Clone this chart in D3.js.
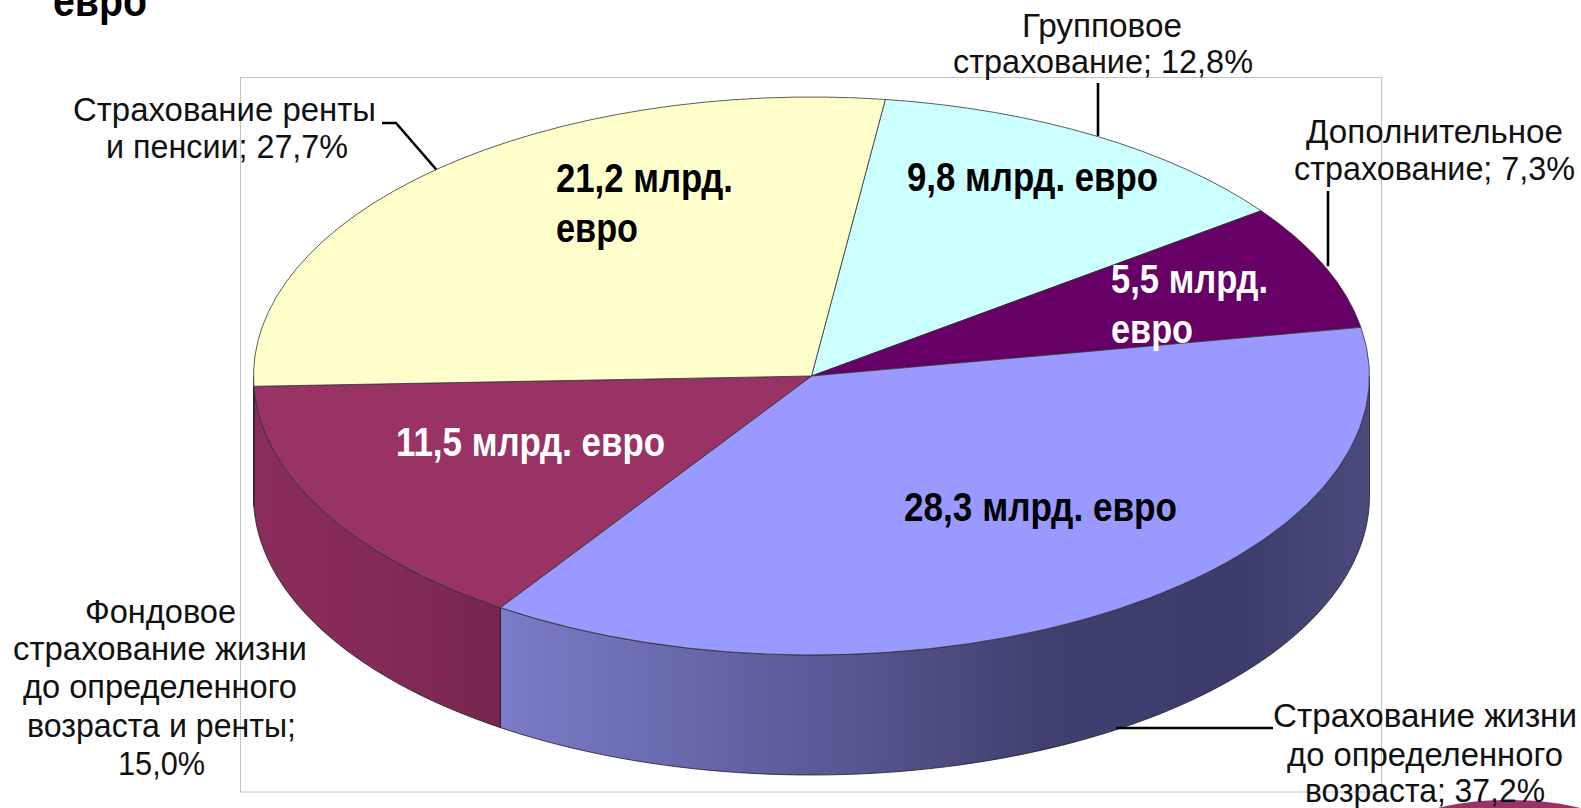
<!DOCTYPE html>
<html><head><meta charset="utf-8">
<script src="https://cdn.jsdelivr.net/npm/d3@7/dist/d3.min.js"></script>
<style>html,body{margin:0;padding:0;background:#fff;overflow:hidden}svg{display:block}text{font-family:"Liberation Sans",Arial,sans-serif}</style>
</head><body><svg id="c" width="1581" height="808"></svg>
<script>
// Data (pie runs clockwise from just right of the top)
const categories = ["Групповое страхование","Дополнительное страхование","Страхование жизни до определенного возраста","Фондовое страхование жизни до определенного возраста и ренты","Страхование ренты и пенсии"];
const shares = [12.8, 7.3, 37.2, 15.0, 27.7];
const topColors = ["#CCFFFF","#660066","#9999FF","#993366","#FFFFCC"];

// Text: [string, left, right, baseline]
const nameLabels = [
  ["Групповое",1022,1182,37],["страхование; 12,8%",953,1253,73],
  ["Дополнительное",1306,1563,143],["страхование; 7,3%",1294,1575,180],
  ["Страхование жизни",1273,1577,727],["до определенного",1287,1563,766],["возраста; 37,2%",1305,1545,802],
  ["Фондовое",85,236,623],["страхование жизни",13,307,660],["до определенного",23,297,698],["возраста и ренты;",27,296,737],["15,0%",118,205,775],
  ["Страхование ренты",73,376,121],["и пенсии; 27,7%",106,348,158]
];
const valueLabels = [
  ["21,2 млрд.",556,733,192,"#000"],["евро",556,638,242,"#000"],
  ["9,8 млрд. евро",907,1158,191,"#000"],
  ["5,5 млрд.",1111,1268,293,"#fff"],["евро",1111,1193,343,"#fff"],
  ["11,5 млрд. евро",396,665,456,"#fff"],
  ["28,3 млрд. евро",904,1177,521,"#000"]
];

const svg = d3.select("#c");
const cx=811.5, cy=376, rx=558, ry=279, depth=120;
const X=d3.scaleLinear().domain([-1,1]).range([cx-rx,cx+rx]);
const Y=d3.scaleLinear().domain([-1,1]).range([cy-ry,cy+ry]);
const rad=d=>d*Math.PI/180;
const pt=(a,dz=0)=>[X(Math.sin(a)),Y(-Math.cos(a))+dz];

const defs=svg.append("defs");
const g1=defs.append("linearGradient").attr("id","wallBlue").attr("gradientUnits","userSpaceOnUse")
  .attr("x1",500).attr("x2",1369).attr("y1",0).attr("y2",0);
[[0,"#7c7cc8"],[.18,"#6b6bb0"],[.42,"#55558f"],[.62,"#404070"],[.85,"#3c3c6c"],[1,"#4a4a7c"]]
  .forEach(s=>g1.append("stop").attr("offset",s[0]).attr("stop-color",s[1]));
const g2=defs.append("linearGradient").attr("id","wallRed").attr("gradientUnits","userSpaceOnUse")
  .attr("x1",253).attr("x2",500).attr("y1",0).attr("y2",0);
[[0,"#8a2d5c"],[.5,"#842a56"],[1,"#77264e"]]
  .forEach(s=>g2.append("stop").attr("offset",s[0]).attr("stop-color",s[1]));

// Frame
svg.append("rect").attr("x",240.5).attr("y",77.5).attr("width",1141).attr("height",714.5)
  .attr("fill","#fff").attr("stroke","#c4c4c4");

// Corner decoration
svg.append("ellipse").attr("cx",1509).attr("cy",832).attr("rx",108).attr("ry",32).attr("fill","#993366");

// Title fragment
svg.append("text").text("евро").attr("x",53).attr("y",16).attr("textLength",94).attr("lengthAdjust","spacingAndGlyphs")
  .attr("font-size",44).attr("font-weight","bold").attr("fill","#000");

const arcs=d3.pie().sort(null).startAngle(rad(7.6)).endAngle(rad(367.6))(shares);

// Walls of the front-facing slices
const line=d3.line();
arcs.forEach((d,i)=>{
  const a0=Math.max(d.startAngle,Math.PI/2), a1=Math.min(d.endAngle,Math.PI*1.5);
  if(a1<=a0) return;
  const n=80, as=d3.range(n+1).map(k=>a0+(a1-a0)*k/n);
  const p=as.map(a=>pt(a)).concat(as.slice().reverse().map(a=>pt(a,depth)));
  svg.append("path").attr("d",line(p)+"Z")
    .attr("fill",i===2?"url(#wallBlue)":"url(#wallRed)")
    .attr("stroke","#1c1c2c").attr("stroke-width",.8);
});

// Top slices
const arc=d3.arc().innerRadius(0).outerRadius(rx);
svg.append("g").attr("transform",`translate(${cx},${cy}) scale(1,${ry/rx})`)
  .selectAll("path").data(arcs).join("path")
  .attr("d",arc).attr("fill",(d,i)=>topColors[i])
  .attr("stroke","#333").attr("stroke-width",.8).attr("vector-effect","non-scaling-stroke");

// Leader lines anchored at each slice's rim midpoint
const mid=i=>(arcs[i].startAngle+arcs[i].endAngle)/2;
const leaders=[
  [[1098,83],[1098,pt(mid(0))[1]]],
  [[1328,191],[1328,pt(mid(1))[1]]],
  [[1273,728],[pt(mid(2),depth)[0],728]],
  [[382,123],[396,123],pt(mid(4))]
];
svg.append("g").selectAll("path").data(leaders).join("path")
  .attr("d",d=>line(d)).attr("fill","none").attr("stroke","#000").attr("stroke-width",2.6);

// Labels
const put=(arr,size,weight)=>svg.append("g").selectAll("text").data(arr).join("text")
  .text(d=>d[0]).attr("x",d=>d[1]).attr("y",d=>d[3])
  .attr("textLength",d=>d[2]-d[1]).attr("lengthAdjust","spacingAndGlyphs")
  .attr("font-size",size).attr("font-weight",weight).attr("fill",d=>d[4]||"#111");
put(nameLabels,33,"normal");
put(valueLabels,40,"bold");
</script></body></html>
